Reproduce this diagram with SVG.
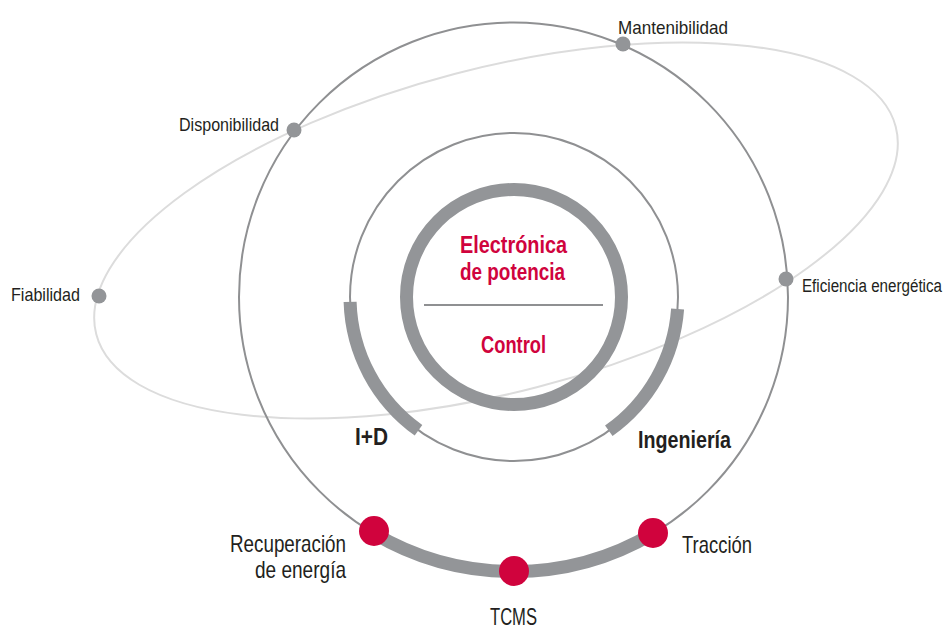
<svg xmlns="http://www.w3.org/2000/svg" width="948" height="631" viewBox="0 0 948 631">
<style>
.orbit{fill:none;stroke:#8f9092;stroke-width:2}
.ell{fill:none;stroke:#dcdcdc;stroke-width:2}
.thick{fill:none;stroke:#939598;stroke-width:13;stroke-linecap:butt}
.gdot{fill:#939598}
.rdot{fill:#d0033d}
text{font-family:"Liberation Sans Narrow","Liberation Sans",Arial,sans-serif;fill:#231f20}
.sm{font-size:19px}
.md{font-size:24px}
.bd{font-size:24px;font-weight:bold}
.red{fill:#d0033d;font-size:24px;font-weight:bold}
</style>
<rect width="948" height="631" fill="#ffffff"/>
<g id="connectors">
  <ellipse class="ell" cx="496" cy="230.5" rx="413" ry="162" transform="rotate(-14.56 496 230.5)"/>
  <circle class="orbit" cx="513.5" cy="297" r="274.5"/>
  <circle class="orbit" cx="514" cy="297" r="164"/>
  <path class="thick" d="M373,532.8 A274.5,274.5 0 0 0 653.2,533.3"/>
</g>
<g id="core">
  <circle cx="514" cy="297" r="107.5" fill="none" stroke="#939598" stroke-width="13"/>
  <line x1="424" y1="305" x2="603" y2="305" stroke="#8f9092" stroke-width="2"/>
  <text class="red" x="460" y="253" textLength="107" lengthAdjust="spacingAndGlyphs">Electrónica</text>
  <text class="red" x="460" y="280" textLength="105" lengthAdjust="spacingAndGlyphs">de potencia</text>
  <text class="red" x="481" y="353" textLength="65" lengthAdjust="spacingAndGlyphs">Control</text>
</g>
<g id="id-node">
  <path class="thick" d="M350.1,301.9 A164,164 0 0 0 418.5,430.3"/>
  <text class="bd" x="355" y="445" textLength="33" lengthAdjust="spacingAndGlyphs">I+D</text>
</g>
<g id="ingenieria-node">
  <path class="thick" d="M677.6,309 A164,164 0 0 1 608.8,430.8"/>
  <text class="bd" x="638" y="448" textLength="93" lengthAdjust="spacingAndGlyphs">Ingeniería</text>
</g>
<g id="fiabilidad-node">
  <circle class="gdot" cx="99" cy="296" r="7.5"/>
  <text class="sm" x="11" y="301" textLength="69" lengthAdjust="spacingAndGlyphs">Fiabilidad</text>
</g>
<g id="disponibilidad-node">
  <circle class="gdot" cx="294" cy="130" r="7.5"/>
  <text class="sm" x="179" y="131" textLength="100" lengthAdjust="spacingAndGlyphs">Disponibilidad</text>
</g>
<g id="mantenibilidad-node">
  <circle class="gdot" cx="623" cy="44" r="7.5"/>
  <text class="sm" x="618" y="34" textLength="110" lengthAdjust="spacingAndGlyphs">Mantenibilidad</text>
</g>
<g id="eficiencia-node">
  <circle class="gdot" cx="786" cy="279" r="7.5"/>
  <text class="sm" transform="translate(802 292) scale(0.8 1)" x="0" y="0" textLength="175" lengthAdjust="spacingAndGlyphs">Eficiencia energética</text>
</g>
<g id="recuperacion-node">
  <circle class="rdot" cx="374" cy="531" r="15"/>
  <text class="md" x="230" y="552" textLength="116" lengthAdjust="spacingAndGlyphs">Recuperación</text>
  <text class="md" x="255" y="578" textLength="91" lengthAdjust="spacingAndGlyphs">de energía</text>
</g>
<g id="tcms-node">
  <circle class="rdot" cx="514" cy="571" r="15"/>
  <text class="md" x="490" y="625" textLength="47" lengthAdjust="spacingAndGlyphs">TCMS</text>
</g>
<g id="traccion-node">
  <circle class="rdot" cx="653" cy="533" r="15"/>
  <text class="md" x="682" y="553" textLength="70" lengthAdjust="spacingAndGlyphs">Tracción</text>
</g>
</svg>
